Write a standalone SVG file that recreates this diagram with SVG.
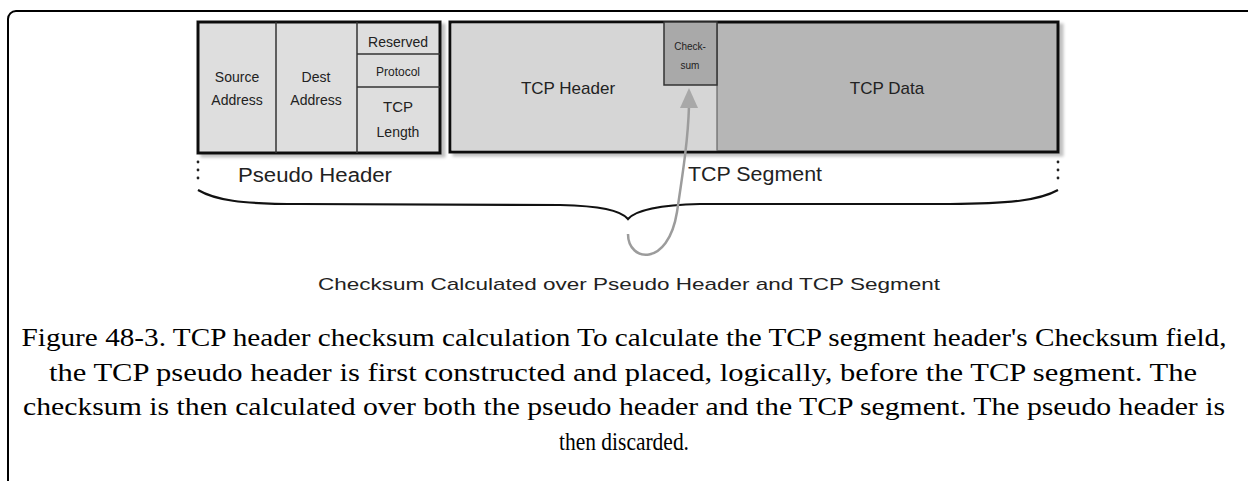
<svg xmlns="http://www.w3.org/2000/svg" width="1248" height="481" viewBox="0 0 1248 481">
<defs>
<style>
.lbl{font-family:"Liberation Sans",Arial,sans-serif;fill:#222;text-anchor:middle}
.cap{font-family:"Liberation Serif","Times New Roman",serif;fill:#000;font-size:25px;text-anchor:middle}
.box{stroke:#111;stroke-width:3}
.div{stroke:#333;stroke-width:1.5;fill:none}
.dot{fill:#222}
</style>
<filter id="sh" x="-5%" y="-5%" width="115%" height="115%">
<feGaussianBlur in="SourceAlpha" stdDeviation="1.5"/>
<feOffset dx="4" dy="3" result="b"/>
<feComponentTransfer><feFuncA type="linear" slope="0.25"/></feComponentTransfer>
<feMerge><feMergeNode/><feMergeNode in="SourceGraphic"/></feMerge>
</filter>
</defs>
<rect width="1248" height="481" fill="#fff"/>
<rect x="8" y="11" width="1300" height="520" rx="8" fill="none" stroke="#000" stroke-width="2"/>

<g id="pseudo-header">
<rect x="198" y="22" width="242" height="131" fill="#dedede" class="box" filter="url(#sh)"/>
<line x1="276" y1="22" x2="276" y2="153" class="div"/>
<line x1="357" y1="22" x2="357" y2="153" class="div"/>
<line x1="357" y1="54" x2="440" y2="54" class="div"/>
<line x1="357" y1="87" x2="440" y2="87" class="div"/>
<text class="lbl" x="237" y="82" font-size="14">Source</text>
<text class="lbl" x="237" y="105" font-size="14">Address</text>
<text class="lbl" x="316" y="82" font-size="14">Dest</text>
<text class="lbl" x="316" y="105" font-size="14">Address</text>
<text class="lbl" x="398" y="47" font-size="14">Reserved</text>
<text class="lbl" x="398" y="76" font-size="12">Protocol</text>
<text class="lbl" x="398" y="112" font-size="15">TCP</text>
<text class="lbl" x="398" y="137" font-size="14">Length</text>
</g>

<g id="tcp-segment">
<rect x="450" y="22" width="608" height="130" fill="#b6b6b6" class="box" filter="url(#sh)"/>
<rect x="451.5" y="23.5" width="265.5" height="127" fill="#d6d6d6"/>
<line x1="717" y1="23" x2="717" y2="151" stroke="#666" stroke-width="1.2"/>
<rect x="664" y="22" width="53" height="63" fill="#a9a9a9" stroke="#333" stroke-width="1.5"/>
<text class="lbl" x="568" y="94" font-size="17">TCP Header</text>
<text class="lbl" x="887" y="94" font-size="17">TCP Data</text>
<text class="lbl" x="690" y="50" font-size="10" fill="#444">Check-</text>
<text class="lbl" x="690" y="69" font-size="10" fill="#444">sum</text>
</g>

<g id="pseudo-label">
<circle class="dot" cx="198" cy="162" r="1.4"/>
<circle class="dot" cx="198" cy="170" r="1.4"/>
<circle class="dot" cx="198" cy="178" r="1.4"/>
<text class="lbl" x="315" y="182" font-size="20" textLength="154" lengthAdjust="spacingAndGlyphs">Pseudo Header</text>
</g>

<g id="segment-label">
<circle class="dot" cx="1058" cy="162" r="1.4"/>
<circle class="dot" cx="1058" cy="170" r="1.4"/>
<circle class="dot" cx="1058" cy="178" r="1.4"/>
<text class="lbl" x="755" y="181" font-size="20" textLength="134" lengthAdjust="spacingAndGlyphs">TCP Segment</text>
</g>

<g id="connectors">
<path d="M198,190 C215,200 240,204 300,204 L560,205 C600,206 620,210 628,219 C636,210 660,205 700,204 L950,204 C1010,204 1040,200 1058,190" fill="none" stroke="#111" stroke-width="2.2"/>
<path d="M628,234 C628,262 668,268 677,212 C683,172 688,140 689,106" fill="none" stroke="#9c9c9c" stroke-width="2.5"/>
<polygon points="689,88 680,108 698,108" fill="#a8a8a8"/>
</g>

<g id="bottom-label">
<text class="lbl" x="629" y="290" font-size="17" textLength="622" lengthAdjust="spacingAndGlyphs">Checksum Calculated over Pseudo Header and TCP Segment</text>
</g>

<g id="caption">
<text class="cap" x="624" y="346" textLength="1205" lengthAdjust="spacingAndGlyphs">Figure 48-3. TCP header checksum calculation To calculate the TCP segment header's Checksum field,</text>
<text class="cap" x="623" y="381" textLength="1148" lengthAdjust="spacingAndGlyphs">the TCP pseudo header is first constructed and placed, logically, before the TCP segment. The</text>
<text class="cap" x="624" y="415" textLength="1202" lengthAdjust="spacingAndGlyphs">checksum is then calculated over both the pseudo header and the TCP segment. The pseudo header is</text>
<text class="cap" x="624" y="450" textLength="130" lengthAdjust="spacingAndGlyphs">then discarded.</text>
</g>
</svg>
